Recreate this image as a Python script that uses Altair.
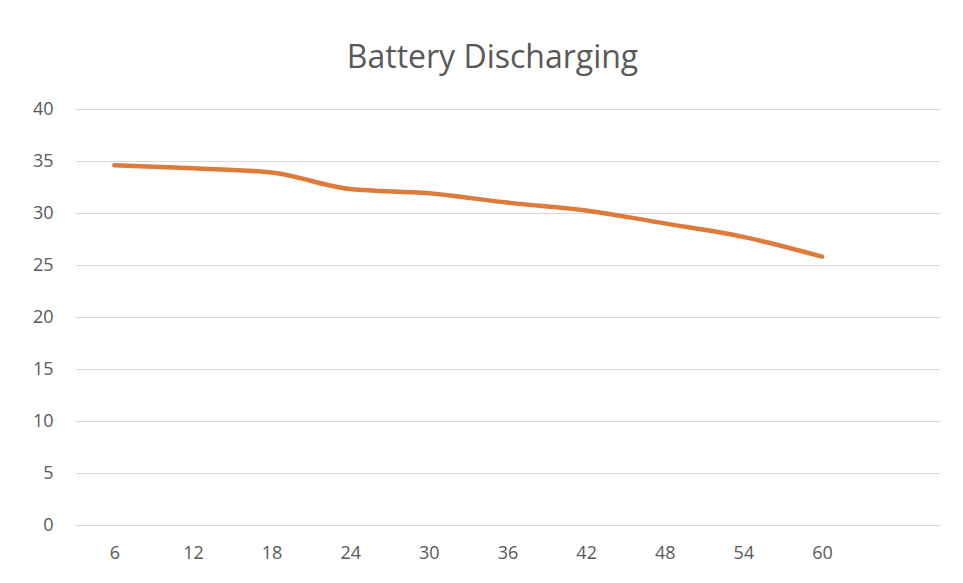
import altair as alt
import pandas as pd

hours = [6, 12, 18, 24, 30, 36, 42, 48, 54, 60]
voltage = [34.6, 34.3, 33.9, 32.3, 31.9, 31.0, 30.25, 29.0, 27.7, 25.8]
y_ticks = [0, 5, 10, 15, 20, 25, 30, 35, 40]

df = pd.DataFrame({"hour": hours, "value": voltage})

chart = alt.Chart(df).mark_line(
    color="#DE7A3A", strokeWidth=4.5, interpolate="monotone", strokeCap="round"
).encode(
    x=alt.X("hour:Q", scale=alt.Scale(domain=[3, 69], nice=False, zero=False),
            axis=alt.Axis(values=hours, title=None, grid=False, ticks=False, domain=False,
                          labelPadding=19, labelFontSize=18, labelColor="#595959",
                          labelFont="Open Sans")),
    y=alt.Y("value:Q", scale=alt.Scale(domain=[0, 40], nice=False),
            axis=alt.Axis(values=y_ticks, title=None, ticks=False, domain=False,
                          gridColor="#D9D9D9", gridWidth=1.2, labelPadding=22,
                          labelFontSize=18, labelColor="#595959", labelFont="Open Sans")),
).properties(
    width=865, height=416,
    title=alt.TitleParams("Battery Discharging", fontSize=32, font="Open Sans",
                          fontWeight="normal", color="#595959", offset=25, anchor="middle",
                          dx=-15),
    autosize=alt.AutoSizeParams(type="none"),
    padding={"left": 67, "top": 101, "right": 10, "bottom": 50},
).configure_view(stroke=None)

chart.save("out.html", embed_options={"renderer": "svg", "actions": False})
